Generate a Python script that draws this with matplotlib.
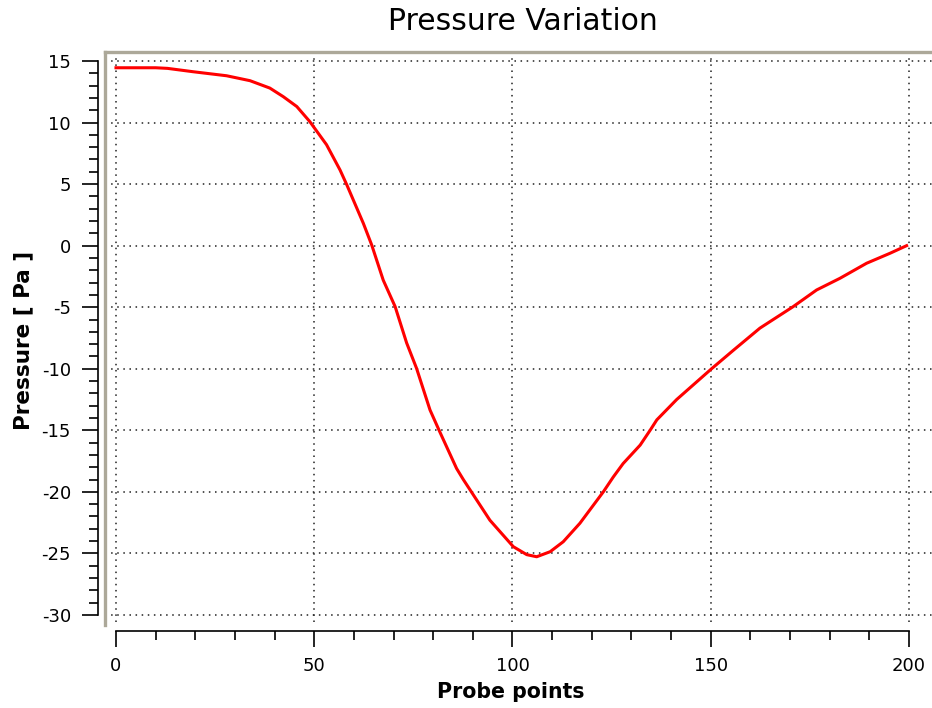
import matplotlib
matplotlib.use('Agg')
import matplotlib.pyplot as plt
from matplotlib.ticker import MultipleLocator
from matplotlib.lines import Line2D

plt.rcParams['axes.unicode_minus'] = False

# probe point index vs pressure
probe = [0, 10, 13, 19.4, 27.9, 33.8, 38.8, 42.2, 45.6, 48.9, 53.1, 56.5, 58.2,
         62.4, 64.5, 67.4, 70.4, 73.3, 75.8, 79.2, 81.7, 85.9, 87.6, 94.3,
         100.2, 103.6, 106.1, 109.5, 112.8, 117, 122.9, 125.4, 127.9, 132.2,
         134.7, 136.4, 141.4, 150.2, 155.7, 162.4, 170.8, 176.7, 182.6,
         189.3, 195.2, 199.4]
pressure = [14.45, 14.45, 14.4, 14.13, 13.8, 13.4, 12.8, 12.1, 11.3, 10.07,
            8.2, 6.15, 4.95, 1.8, 0.05, -2.8, -4.95, -7.9, -9.96, -13.35,
            -15.15, -18.1, -19.0, -22.3, -24.45, -25.1, -25.27, -24.86,
            -24.05, -22.55, -20.0, -18.8, -17.7, -16.2, -15.0, -14.15, -12.5,
            -10.0, -8.5, -6.7, -4.95, -3.6, -2.65, -1.43, -0.62, 0.0]

frame_col = '#aca899'

fig = plt.figure(figsize=(9.32, 7.08), dpi=100)
ax = fig.add_axes([105/932, 86/708, 827/932, 570/708])

ax.plot(probe, pressure, color='red', lw=2.2, solid_joinstyle='round')

ax.set_xlim(-2.77, 205.8)
ax.set_ylim(-30.57, 15.73)

ax.xaxis.set_major_locator(MultipleLocator(50))
ax.xaxis.set_minor_locator(MultipleLocator(10))
ax.yaxis.set_major_locator(MultipleLocator(5))
ax.yaxis.set_minor_locator(MultipleLocator(1))

ax.grid(True, which='major', color='#222222', linestyle=(0, (1, 3)), lw=1.1)

# axis lines detached from the canvas
ax.spines['right'].set_visible(False)
ax.spines['left'].set_position(('outward', 5))
ax.spines['left'].set_bounds(-30, 15)
ax.spines['bottom'].set_position(('outward', 6.5))
ax.spines['bottom'].set_bounds(0, 200)
ax.spines['left'].set_linewidth(1.2)
ax.spines['bottom'].set_linewidth(1.2)
ax.spines['top'].set_color(frame_col)
ax.spines['top'].set_linewidth(2.4)

# gray canvas frame on the left
ax.add_line(Line2D([0, 0], [-0.005, 1.0], transform=ax.transAxes,
                   color=frame_col, lw=2.4, clip_on=False))

ax.tick_params(axis='both', which='major', length=11.5, width=1.2,
               labelsize=13, direction='out')
ax.tick_params(axis='both', which='minor', length=6.5, width=1.2,
               direction='out')
ax.tick_params(axis='y', which='major', pad=8)
ax.tick_params(axis='x', which='major', pad=7)
ax.tick_params(top=False, which='both')

fig.text(523/932, 1 - 22/708, 'Pressure Variation', fontsize=21.5,
         ha='center', va='center')
fig.text(511/932, 1 - 692/708, 'Probe points', fontsize=14.8,
         fontweight='bold', ha='center', va='center')
fig.text(23/932, 1 - 340/708, 'Pressure [ Pa ]', fontsize=15.5,
         fontweight='bold', ha='center', va='center', rotation=90)

plt.savefig('out.png', dpi=100)
